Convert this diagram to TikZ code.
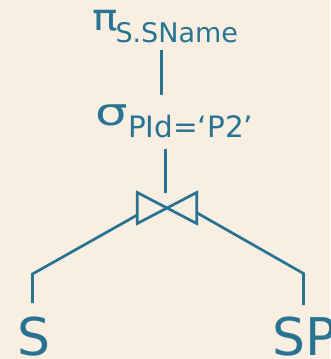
\documentclass[tikz,border=0pt]{standalone}
\usepackage{fontspec}
\setmainfont{DejaVu Sans}
\definecolor{bgcream}{HTML}{F8EFE2}
\definecolor{teal}{HTML}{287392}
\begin{document}
\begin{tikzpicture}[x=1pt,y=-1pt,
  lbl/.style={inner sep=0pt,outer sep=0pt,anchor=base west,text=teal},
  edge/.style={draw=teal,line width=2.7pt,line join=miter}]
\fill[bgcream] (0,0) rectangle (330,359);
\useasboundingbox (0,0) rectangle (330,359);
% projection
\node[lbl,font=\fontsize{37}{37}\selectfont] (pi) at (92,30) {\scalebox{1.15}[1]{π}};
\node[lbl,font=\fontsize{27}{27}\selectfont] (pisub) at (115.5,42.3) {S.SName};
% selection
\node[lbl,font=\fontsize{38}{38}\selectfont] (sigma) at (95,125.7) {\scalebox{1.35}[1]{σ}};
\node[lbl,font=\fontsize{29.5}{29.5}\selectfont] (sigsub) at (128,137.7) {PId=‘P2’};
% leaves
\node[lbl,font=\fontsize{52}{52}\selectfont] (S) at (17,355.5) {S};
\node[lbl,font=\fontsize{52}{52}\selectfont] (SP) at (272,355.5) {SP};
% connector points
\coordinate (p1) at (161.5,50);
\coordinate (s1) at (161.5,95);
\coordinate (s2) at (165.5,148.5);
\coordinate (j0) at (165.5,193);
\coordinate (jtl) at (137.3,192.5);
\coordinate (jbl) at (137.3,223.5);
\coordinate (jtr) at (196.7,192.5);
\coordinate (jbr) at (196.7,223.5);
\coordinate (jl) at (137.3,215);
\coordinate (jr) at (196.7,212.7);
\coordinate (sc) at (32.5,274);
\coordinate (st) at (32.5,303);
\coordinate (spc) at (303.5,273.5);
\coordinate (spt) at (303.5,305);
% edges
\draw[edge] (p1) -- (s1);
\draw[edge] (s2) -- (j0);
\draw[edge] (jtl) -- (jbr) -- (jtr) -- (jbl) -- cycle;
\draw[edge] (jl) -- (sc) -- (st);
\draw[edge] (jr) -- (spc) -- (spt);
\end{tikzpicture}
\end{document}
